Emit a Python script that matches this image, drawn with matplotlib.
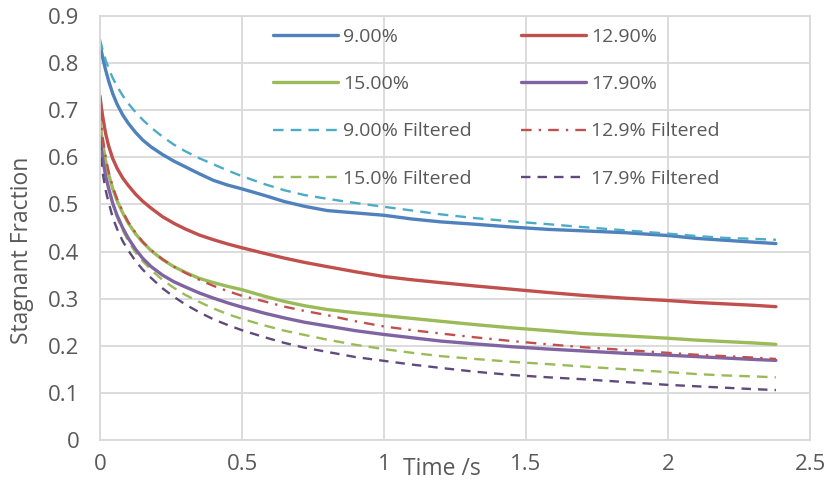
import numpy as np
import matplotlib
matplotlib.use("Agg")
import matplotlib.pyplot as plt

# time points (s)
t = [0, 0.005, 0.01, 0.02, 0.03, 0.045, 0.06, 0.08, 0.1, 0.125, 0.15, 0.18,
     0.22, 0.26, 0.3, 0.35, 0.4, 0.45, 0.5, 0.58, 0.65, 0.72, 0.8, 0.9, 1.0,
     1.1, 1.2, 1.32, 1.45, 1.58, 1.7, 1.85, 2.0, 2.1, 2.2, 2.3, 2.38]

# raw stagnant fraction
s9 = [0.840, 0.825, 0.810, 0.785, 0.763, 0.735, 0.713, 0.690, 0.672, 0.653,
      0.637, 0.622, 0.606, 0.592, 0.580, 0.565, 0.551, 0.541, 0.533, 0.519,
      0.506, 0.496, 0.487, 0.482, 0.477, 0.469, 0.463, 0.458, 0.452, 0.447,
      0.444, 0.440, 0.434, 0.428, 0.424, 0.420, 0.417]
s129 = [0.730, 0.705, 0.685, 0.650, 0.625, 0.597, 0.577, 0.556, 0.540, 0.522,
        0.507, 0.492, 0.474, 0.460, 0.448, 0.435, 0.425, 0.416, 0.408, 0.396,
        0.386, 0.377, 0.368, 0.357, 0.347, 0.340, 0.334, 0.327, 0.320, 0.313,
        0.307, 0.301, 0.296, 0.292, 0.289, 0.286, 0.283]
s15 = [0.680, 0.650, 0.628, 0.592, 0.565, 0.533, 0.508, 0.482, 0.460, 0.438,
       0.420, 0.402, 0.383, 0.368, 0.356, 0.343, 0.334, 0.326, 0.319, 0.305,
       0.294, 0.285, 0.277, 0.270, 0.264, 0.258, 0.252, 0.245, 0.238, 0.232,
       0.226, 0.221, 0.216, 0.212, 0.209, 0.206, 0.203]
s179 = [0.645, 0.615, 0.595, 0.560, 0.535, 0.502, 0.477, 0.450, 0.428, 0.405,
        0.386, 0.368, 0.350, 0.336, 0.325, 0.312, 0.301, 0.291, 0.282, 0.269,
        0.259, 0.250, 0.242, 0.232, 0.224, 0.217, 0.210, 0.204, 0.198, 0.193,
        0.189, 0.184, 0.180, 0.177, 0.174, 0.171, 0.169]

# filtered
f9 = [0.850, 0.838, 0.826, 0.806, 0.790, 0.768, 0.751, 0.731, 0.714, 0.696,
      0.680, 0.663, 0.644, 0.627, 0.613, 0.598, 0.585, 0.572, 0.560, 0.543,
      0.530, 0.520, 0.512, 0.503, 0.495, 0.487, 0.479, 0.471, 0.464, 0.458,
      0.452, 0.445, 0.438, 0.433, 0.429, 0.427, 0.425]
f129 = [0.700, 0.665, 0.640, 0.600, 0.570, 0.537, 0.512, 0.485, 0.462, 0.440,
        0.421, 0.403, 0.384, 0.368, 0.355, 0.340, 0.327, 0.316, 0.306, 0.294,
        0.283, 0.274, 0.265, 0.252, 0.241, 0.233, 0.226, 0.218, 0.210, 0.203,
        0.197, 0.191, 0.185, 0.181, 0.178, 0.175, 0.172]
f15 = [0.665, 0.630, 0.605, 0.565, 0.535, 0.500, 0.473, 0.445, 0.422, 0.398,
       0.380, 0.361, 0.340, 0.323, 0.308, 0.293, 0.279, 0.267, 0.257, 0.243,
       0.232, 0.223, 0.213, 0.202, 0.193, 0.185, 0.178, 0.172, 0.166, 0.161,
       0.156, 0.150, 0.144, 0.140, 0.137, 0.135, 0.133]
f179 = [0.635, 0.590, 0.565, 0.530, 0.505, 0.472, 0.448, 0.422, 0.402, 0.380,
        0.362, 0.344, 0.322, 0.304, 0.288, 0.271, 0.256, 0.244, 0.233, 0.218,
        0.206, 0.196, 0.187, 0.176, 0.168, 0.160, 0.153, 0.145, 0.138, 0.133,
        0.129, 0.123, 0.117, 0.114, 0.111, 0.108, 0.106]

plt.rcParams['font.family'] = ['Open Sans', 'DejaVu Sans']
txt = '#595959'
grid = '#D9D9D9'

fig = plt.figure(figsize=(8.27, 4.84), dpi=100)
ax = fig.add_axes([100/827, 44/484, 710/827, 424/484])

lw = 2.4
dlw = 1.7
ax.plot(t, s9, color='#4F81BD', lw=lw, label='9.00%', solid_capstyle='round')
ax.plot(t, s15, color='#9BBB59', lw=lw, label='15.00%', solid_capstyle='round')
ax.plot(t, f9, color='#4BACC6', lw=dlw, ls=(0, (4.5, 3)), label='9.00% Filtered')
ax.plot(t, f15, color='#9BBB59', lw=dlw, ls=(0, (4.5, 3)), label='15.0% Filtered')
ax.plot(t, s129, color='#C0504D', lw=lw, label='12.90%', solid_capstyle='round')
ax.plot(t, s179, color='#8064A2', lw=lw, label='17.90%', solid_capstyle='round')
ax.plot(t, f129, color='#C0504D', lw=dlw, ls=(0, (4.5, 3, 1, 3)), label='12.9% Filtered')
ax.plot(t, f179, color='#604A7B', lw=dlw, ls=(0, (4, 3)), label='17.9% Filtered')

ax.set_xlim(0, 2.5)
ax.set_ylim(0, 0.9)
ax.set_xticks([0, 0.5, 1, 1.5, 2, 2.5])
ax.set_xticklabels(['0', '0.5', '1', '1.5', '2', '2.5'])
ax.set_yticks(np.arange(0, 0.91, 0.1))
ax.set_yticklabels(['0', '0.1', '0.2', '0.3', '0.4', '0.5', '0.6', '0.7', '0.8', '0.9'])
ax.grid(True, color=grid, lw=1.3)
ax.set_axisbelow(True)
for sp in ax.spines.values():
    sp.set_color(grid)
    sp.set_linewidth(1.3)
ax.tick_params(length=0, labelsize=16, colors=txt)
ax.tick_params(axis='y', pad=15)
ax.tick_params(axis='x', pad=10)

ax.set_xlabel('Time /s', fontsize=16.5, color=txt)
ax.xaxis.set_label_coords(0.482, -0.068)
ax.xaxis.label.set_va('center')
ax.set_ylabel('Stagnant Fraction', fontsize=16.5, color=txt)
ax.yaxis.set_label_coords(-0.11, 0.448)
ax.yaxis.label.set_va('center')

ax.legend(ncol=2, frameon=False, fontsize=14, loc='upper left',
          bbox_to_anchor=((273 - 100) / 710, (440 - 28) / 424),
          borderpad=0, borderaxespad=0, handlelength=3.35, handletextpad=0.26,
          columnspacing=2.5, labelspacing=1.5, labelcolor=txt)

fig.savefig('out.png', dpi=100)
